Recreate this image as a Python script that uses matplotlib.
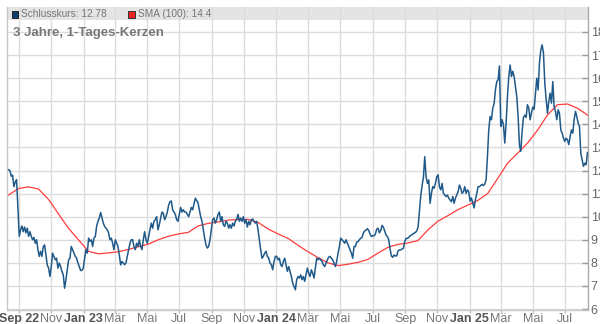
import pandas as pd
import matplotlib
matplotlib.use("Agg")
import matplotlib.pyplot as plt
from matplotlib.patches import Rectangle

plt.rcParams["font.family"] = ["Liberation Sans", "DejaVu Sans"]

# daily closes, sampled at even spacing over the 3-year window
close = [
    12.03, 12.0, 11.75, 11.8, 11.3, 11.5, 11.6, 10.4, 9.15, 9.43, 9.6, 9.35, 9.55, 9.3, 9.5, 9.15,
    9.35, 9.15, 9.0, 9.1, 8.85, 9.0, 8.57, 8.28, 8.5, 8.28, 8.7, 8.78, 8.35, 7.91, 7.77, 7.41,
    7.84, 8.42, 8.28, 8.13, 8.2, 7.77, 7.99, 7.84, 7.63, 7.48, 6.9, 7.27, 7.7, 8.13, 8.2, 8.71,
    8.57, 8.42, 8.28, 8.2, 7.99, 7.84, 7.67, 7.67, 7.77, 8.2, 8.57, 8.42, 9.07, 8.93, 9.0, 8.71,
    9.07, 9.14, 9.58, 9.8, 9.94, 10.18, 9.94, 9.72, 9.58, 9.5, 9.43, 9.29, 9.0, 9.07, 8.85, 8.57,
    9.0, 8.85, 8.71, 8.35, 7.91, 8.06, 7.99,
    7.92, 8.0, 8.28, 8.57, 8.85, 9.0, 9.0, 8.71, 8.57, 8.85, 8.71, 9.0, 8.71, 8.57, 9.0, 9.35,
    9.0, 8.85, 9.14, 9.43, 9.72, 9.5, 9.8, 9.87, 10.0, 9.43, 9.65, 9.94, 10.2, 10.15, 9.87, 10.0,
    10.2, 10.5, 10.65, 10.68, 10.3, 10.2, 10.1, 9.87, 9.8, 10.1, 10.4, 10.2, 10.3, 10.2, 10.2, 10.1,
    10.0, 10.2, 10.4, 10.3, 10.55, 10.8, 10.7, 10.6, 10.3, 10.0, 9.8, 9.43, 9.07, 8.78, 8.64, 8.71,
    9.0, 9.43, 9.87, 9.94, 9.72, 9.87, 10.1, 10.2, 9.8, 10.0, 9.65, 9.58, 9.8, 9.72, 9.5, 9.65,
    9.5, 9.72, 9.6, 9.8, 9.87, 10.1, 9.8,
    9.94, 9.8, 10.0, 9.72, 9.87, 9.55, 9.8, 9.65, 9.87, 9.9, 9.8, 9.72, 9.8, 9.43, 9.0, 8.57,
    8.2, 8.28, 8.42, 8.5, 8.28, 8.2, 7.99, 7.92, 7.7, 8.06, 8.28, 8.28, 8.13, 8.2, 7.92, 7.84,
    8.06, 8.2, 7.92, 7.63, 7.84, 7.63, 7.41, 7.12, 6.98, 6.83, 7.27, 7.41, 7.34, 7.48, 7.27, 7.41,
    7.2, 7.48, 7.77, 7.55, 7.41, 7.7, 7.55, 7.34, 7.77, 8.2, 8.13, 8.2, 8.13, 8.06, 7.92, 7.84,
    7.99, 8.13, 8.25, 8.28, 8.2, 8.13, 7.99, 7.84, 8.06, 8.42, 8.71, 9.07, 9.0, 8.93, 8.85, 9.0,
    8.85, 8.71, 8.57, 8.42, 8.2, 8.71,
    8.7, 8.9, 8.92, 9.0, 9.07, 9.1, 9.3, 9.38, 9.42, 9.48, 9.4, 9.25, 9.14, 9.18, 9.17, 9.25,
    9.46, 9.5, 9.3, 9.4, 9.62, 9.55, 9.38, 9.2, 9.14, 9.0, 8.6, 8.3, 8.24, 8.34, 8.3, 8.3,
    8.52, 8.56, 8.56, 8.6, 8.63, 8.92, 9.06, 9.06, 9.1, 9.17, 9.2, 9.25, 9.28, 9.32, 9.38, 9.55,
    10.2, 10.9, 11.35, 11.7, 12.6, 11.73, 11.44, 11.59, 10.58, 11.01, 11.3, 11.23, 11.44, 11.73, 11.81, 11.3,
    11.16, 11.44, 11.01, 10.94, 10.87, 10.94, 10.8, 10.72, 10.65, 10.87, 10.58, 10.8, 10.94, 11.08, 11.37, 11.23,
    11.01, 11.08, 11.3, 11.01, 11.16, 11.08,
    10.67, 10.81, 10.6, 10.38, 10.75, 11.0, 11.3, 11.3, 11.35, 11.4, 11.35, 11.41, 11.6, 12.6, 13.76, 14.34,
    14.2, 14.7, 14.9, 15.5, 15.85, 15.93, 16.53, 13.91, 14.2, 13.98, 13.19, 14.05, 15.2, 16.07, 16.57, 16.07,
    16.3, 16.07, 15.64, 15.2, 14.34, 13.1, 12.83, 13.7, 14.3, 14.4, 14.3, 14.85, 14.7, 14.2, 14.5, 14.75,
    14.65, 15.3, 16.0, 15.49, 16.65, 17.22, 17.44, 17.1, 15.8, 15.1, 14.48, 14.99, 15.35, 14.92, 15.85, 14.77,
    14.56, 14.2, 14.63, 14.48, 13.76, 13.62, 13.4, 13.26, 13.4, 13.33, 13.12, 13.48, 13.76, 13.62, 14.2, 14.56,
    14.34, 14.05, 13.91, 12.75, 12.47, 12.18, 12.32, 12.25, 12.78,
]

# 100-day simple moving average, sampled every ~19 days
sma = [
    10.94, 11.22, 11.29, 11.2, 10.75, 10.12, 9.5, 9.0, 8.5, 8.39, 8.43, 8.48, 8.58, 8.7, 8.81, 9.0,
    9.15, 9.25, 9.32, 9.6, 9.71, 9.77, 9.85, 9.88, 9.88, 9.75, 9.47, 9.25, 9.06, 8.76, 8.48, 8.23,
    8.0, 7.88, 7.94, 8.02, 8.15, 8.42, 8.67, 8.8, 8.86, 8.96, 9.42, 9.8, 10.04, 10.3, 10.5, 10.7,
    11.0, 11.65, 12.32, 12.75, 13.19, 13.75, 14.41, 14.85, 14.88, 14.7, 14.4,
]

start, end = "2022-08-12", "2025-08-12"
dates = pd.date_range(start, end, periods=len(close))
sma_dates = pd.date_range(start, end, periods=len(sma))

tick_dates = pd.date_range("2022-09-01", "2025-07-01", freq="2MS")
tick_labels = ["Sep 22", "Nov", "Jan 23", "Mär", "Mai", "Jul", "Sep", "Nov", "Jan 24",
               "Mär", "Mai", "Jul", "Sep", "Nov", "Jan 25", "Mär", "Mai", "Jul"]
y_ticks = list(range(6, 19))

blue = "#1f5a8a"
red = "#ff3c3c"
grid_c = "#dcdcdc"

fig = plt.figure(figsize=(6, 3.24), dpi=100)
ax = fig.add_axes([7 / 600, 14 / 324, 581 / 600, 303 / 324])

ax.plot(sma_dates, sma, color=red, lw=0.9, zorder=3)
ax.plot(dates, close, color=blue, lw=1.1, zorder=4)

ax.set_xlim(pd.Timestamp("2022-08-09"), pd.Timestamp("2025-08-13"))
ax.set_ylim(5.957, 19.083)

# grey header band holding the legend
ax.axhspan(18.52, 19.1, color="#e4e4e4", zorder=0.2, lw=0)

ax.set_axisbelow(True)
ax.grid(True, color=grid_c, lw=1.0)

ax.set_xticks(tick_dates)
ax.set_xticklabels(tick_labels)
for lbl in ax.get_xticklabels():
    if " " in lbl.get_text():
        lbl.set_fontweight("bold")
        lbl.set_color("#555555")
    else:
        lbl.set_color("#777777")
    lbl.set_fontsize(9)

ax.yaxis.tick_right()
ax.set_yticks(y_ticks)
ax.set_yticklabels([str(v) for v in y_ticks])
ax.tick_params(axis="y", direction="in", length=4, width=1, color="#999999",
               labelsize=9, labelcolor="#666666", pad=2)
ax.tick_params(axis="x", direction="out", length=2, width=1, color="#bbbbbb", pad=0.5)

for side in ["left", "right", "bottom"]:
    ax.spines[side].set_color("#c8c8c8")
    ax.spines[side].set_linewidth(1)
ax.spines["right"].set_color("#aaaaaa")
ax.spines["top"].set_visible(False)

# legend entries in the header band
fig.patches.append(Rectangle((11.5 / 600, 1 - 17.5 / 324), 6.5 / 600, 6.5 / 324,
                             transform=fig.transFigure, facecolor="#0c3f6e",
                             edgecolor="#222222", lw=0.7, zorder=5))
fig.text(21 / 600, 1 - 14 / 324, "Schlusskurs: 12.78", fontsize=7.3, color="#777777",
         va="center", ha="left")
fig.patches.append(Rectangle((128 / 600, 1 - 17.5 / 324), 6.5 / 600, 6.5 / 324,
                             transform=fig.transFigure, facecolor="#ee2222",
                             edgecolor="#333333", lw=0.7, zorder=5))
fig.text(138.5 / 600, 1 - 14 / 324, "SMA (100): 14.4", fontsize=7.3, color="#777777",
         va="center", ha="left")

fig.text(13 / 600, 1 - 33 / 324, "3 Jahre, 1-Tages-Kerzen", fontsize=9.5,
         fontweight="bold", color="#777777", va="center", ha="left")

fig.savefig("out.png", dpi=100)
